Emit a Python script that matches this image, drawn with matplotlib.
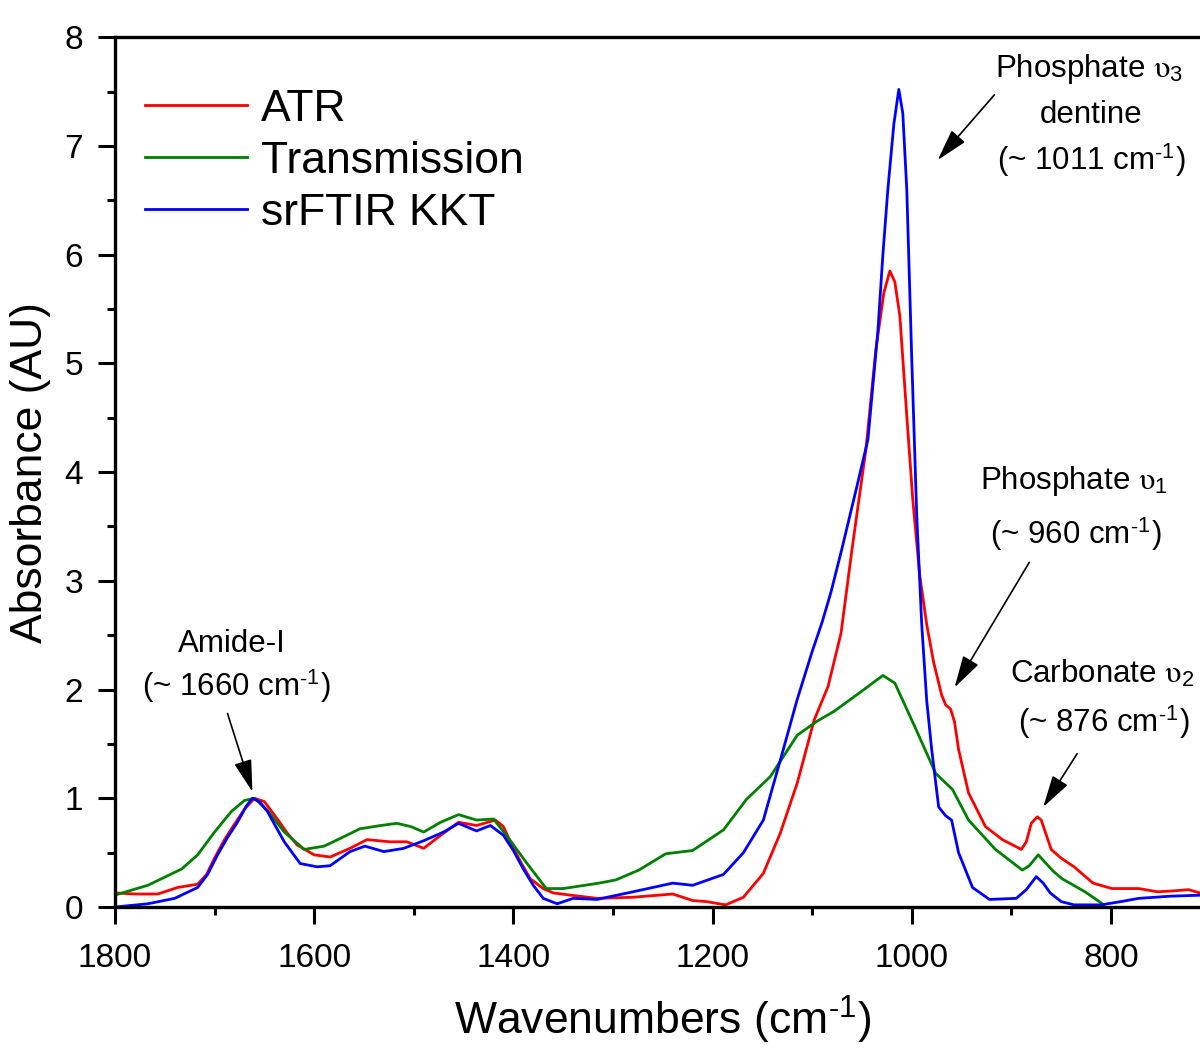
import numpy as np
import matplotlib
matplotlib.use('Agg')
import matplotlib.pyplot as plt

# 字体设置
plt.rcParams['font.family'] = ['Liberation Sans', 'DejaVu Sans']
plt.rcParams['mathtext.fontset'] = 'stix'

# ATR 光谱 (红)
wn_atr = [1800, 1780, 1757, 1737, 1717, 1708, 1700, 1690, 1683, 1670, 1660, 1650,
          1637, 1627, 1617, 1600, 1584, 1564, 1547, 1524, 1507, 1490, 1473, 1455,
          1437, 1418, 1410, 1403, 1393, 1383, 1370, 1360, 1343, 1316, 1280, 1240,
          1220, 1206, 1187, 1169, 1149, 1132, 1115, 1098, 1084, 1071, 1060, 1046,
          1036, 1028, 1022, 1017, 1012, 1005, 999, 992, 985, 978, 970, 966, 961,
          957, 953, 943, 926, 909, 890, 885, 880, 874, 870, 860, 850, 837, 818,
          799, 772, 753, 735, 722, 707]
abs_atr = [0.13, 0.12, 0.12, 0.18, 0.21, 0.30, 0.45, 0.62, 0.72, 0.90, 1.00, 0.97,
           0.81, 0.68, 0.57, 0.48, 0.46, 0.54, 0.62, 0.60, 0.60, 0.54, 0.66, 0.78,
           0.75, 0.80, 0.74, 0.60, 0.42, 0.26, 0.17, 0.13, 0.11, 0.08, 0.09, 0.12,
           0.06, 0.05, 0.02, 0.09, 0.31, 0.68, 1.14, 1.72, 2.03, 2.52, 3.29, 4.21,
           5.13, 5.65, 5.85, 5.75, 5.44, 4.52, 3.75, 3.05, 2.60, 2.25, 1.95, 1.86, 1.82,
           1.70, 1.45, 1.05, 0.74, 0.62, 0.53, 0.60, 0.77, 0.83, 0.80, 0.53, 0.45, 0.37, 0.22,
           0.17, 0.17, 0.14, 0.15, 0.16, 0.12]

# 透射光谱 (绿)
wn_trans = [1800, 1767, 1733, 1717, 1700, 1683, 1670, 1660, 1647, 1630, 1610, 1590,
            1574, 1554, 1533, 1517, 1503, 1490, 1473, 1455, 1437, 1420, 1407, 1387,
            1367, 1350, 1314, 1297, 1274, 1247, 1220, 1189, 1166, 1142, 1115, 1095,
            1078, 1051, 1029, 1017, 997, 976, 959, 943, 916, 889, 882, 873, 858, 849,
            826, 807]
abs_trans = [0.11, 0.20, 0.35, 0.48, 0.69, 0.88, 0.98, 1.00, 0.89, 0.69, 0.53, 0.56,
             0.63, 0.72, 0.75, 0.77, 0.74, 0.69, 0.78, 0.85, 0.80, 0.81, 0.66, 0.41,
             0.17, 0.17, 0.22, 0.25, 0.34, 0.49, 0.52, 0.71, 0.99, 1.20, 1.58, 1.71,
             1.80, 1.98, 2.13, 2.06, 1.66, 1.23, 1.08, 0.80, 0.53, 0.34, 0.38, 0.48, 0.33, 0.26,
             0.14, 0.02]

# srFTIR KKT 光谱 (蓝)
wn_kkt = [1800, 1767, 1740, 1717, 1707, 1697, 1687, 1677, 1668, 1662, 1655, 1647,
          1630, 1614, 1597, 1584, 1564, 1549, 1530, 1510, 1490, 1470, 1455, 1437,
          1423, 1410, 1400, 1390, 1380, 1370, 1356, 1340, 1316, 1280, 1240, 1220,
          1189, 1169, 1149, 1132, 1115, 1100, 1090, 1081, 1070, 1054, 1044, 1034,
          1029, 1024, 1018, 1013, 1009, 1005, 1000, 995, 990, 985, 980, 973, 966,
          960, 953, 939, 922, 895, 885, 875, 868, 861, 850, 837, 810, 790, 772,
          740, 707]
abs_kkt = [0.00, 0.03, 0.08, 0.18, 0.30, 0.48, 0.64, 0.78, 0.93, 1.00, 0.97, 0.88,
           0.60, 0.40, 0.37, 0.38, 0.51, 0.56, 0.51, 0.54, 0.61, 0.69, 0.77, 0.70,
           0.75, 0.66, 0.52, 0.35, 0.20, 0.08, 0.03, 0.08, 0.07, 0.14, 0.22, 0.20,
           0.30, 0.50, 0.80, 1.35, 1.91, 2.35, 2.62, 2.90, 3.30, 3.91, 4.30, 5.30,
           6.00, 6.60, 7.20, 7.52, 7.30, 6.60, 5.04, 3.60, 2.60, 1.90, 1.45, 0.92, 0.84,
           0.80, 0.50, 0.18, 0.07, 0.08, 0.16, 0.28, 0.22, 0.13, 0.05, 0.02, 0.02, 0.05, 0.08,
           0.10, 0.11]

fig = plt.figure(figsize=(12, 10.48), dpi=100)
ax = fig.add_axes([0.0958, 0.1345, 0.913, 0.830])

ax.plot(wn_atr, abs_atr, color='#ff0000', lw=2.0, label='ATR')
ax.plot(wn_trans, abs_trans, color='#008000', lw=2.0, label='Transmission')
ax.plot(wn_kkt, abs_kkt, color='#0000ff', lw=2.0, label='srFTIR KKT')

ax.set_xlim(1800, 700)
ax.set_ylim(0, 8)
ax.set_xticks([1800, 1600, 1400, 1200, 1000, 800])
ax.set_xticks(np.arange(1700, 699, -200), minor=True)
ax.set_yticks(range(0, 9))
ax.set_yticks(np.arange(0.5, 8, 1), minor=True)

for s in ax.spines.values():
    s.set_linewidth(2.4)
ax.tick_params(which='major', direction='out', length=12, width=2.2, labelsize=24, pad=11)
ax.tick_params(axis='x', which='major', pad=14)
ax.tick_params(which='minor', direction='out', length=6, width=2.2)

sup = '$^{\\mathregular{\\text{-}1}}$'
ax.set_xlabel('Wavenumbers (cm' + sup + ')', fontsize=32, labelpad=14)
ax.set_ylabel('Absorbance (AU)', fontsize=32, labelpad=10)

ax.legend(loc='upper left', bbox_to_anchor=(0.0274, 0.941), frameon=False, fontsize=32,
          handlelength=2.3, handletextpad=0.3, labelspacing=0.25, borderpad=0, borderaxespad=0)

# 峰位标注
fs = 22.5
arrow = dict(arrowstyle='-|>,head_length=0.9,head_width=0.25', color='black', lw=1.2,
             mutation_scale=22, shrinkA=0, shrinkB=0)

ax.text(822, 7.71, 'Phosphate $\\mathrm{\\upsilon}_{\\mathregular{3}}$', fontsize=fs, ha='center', va='center')
ax.text(820, 7.28, 'dentine', fontsize=fs, ha='center', va='center')
ax.text(820, 6.87, '(~ 1011 cm' + sup + ')', fontsize=fs, ha='center', va='center')
ax.annotate('', xy=(974, 6.87), xytext=(917, 7.47), arrowprops=arrow)

ax.text(837, 3.92, 'Phosphate $\\mathrm{\\upsilon}_{\\mathregular{1}}$', fontsize=fs, ha='center', va='center')
ax.text(835, 3.43, '(~ 960 cm' + sup + ')', fontsize=fs, ha='center', va='center')
ax.annotate('', xy=(957, 2.02), xytext=(882, 3.17), arrowprops=arrow)

ax.text(809, 2.14, 'Carbonate $\\mathrm{\\upsilon}_{\\mathregular{2}}$', fontsize=fs, ha='center', va='center')
ax.text(807, 1.70, '(~ 876 cm' + sup + ')', fontsize=fs, ha='center', va='center')
ax.annotate('', xy=(868, 0.92), xytext=(834, 1.41), arrowprops=arrow)

ax.text(1683, 2.42, 'Amide-I', fontsize=fs, ha='center', va='center')
ax.text(1678, 2.03, '(~ 1660 cm' + sup + ')', fontsize=fs, ha='center', va='center')
ax.annotate('', xy=(1662, 1.06), xytext=(1687, 1.78), arrowprops=arrow)

fig.savefig('out.png', dpi=100)
